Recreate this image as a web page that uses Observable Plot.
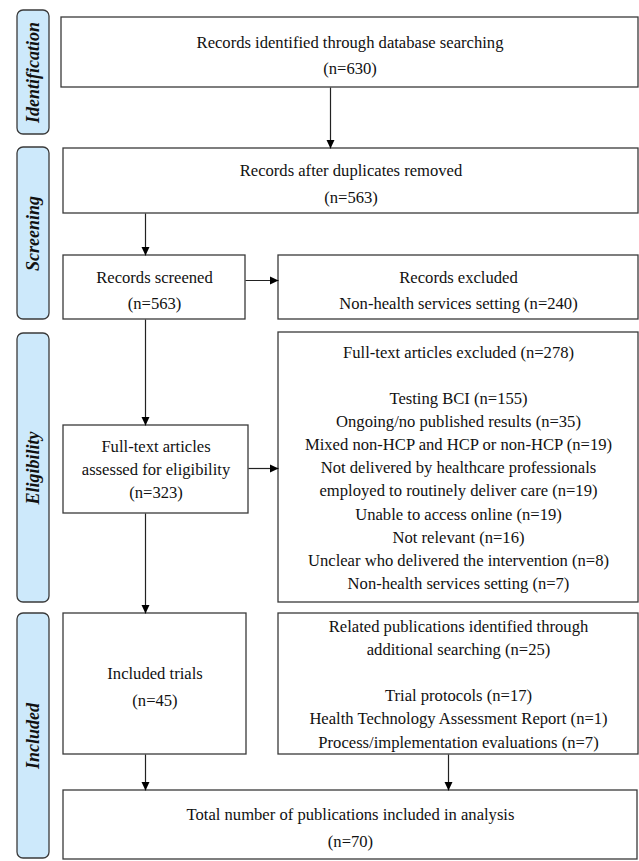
<!DOCTYPE html>
<html><head><meta charset="utf-8">
<script src="https://cdn.jsdelivr.net/npm/d3@7"></script>
<script src="https://cdn.jsdelivr.net/npm/@observablehq/plot@0.6"></script>
<style>body{margin:0;background:#fff}</style>
</head><body><div id="chart"></div>
<script>
// ---- data (texts / counts) ----
const stages = ["Identification", "Screening", "Eligibility", "Included"];
const boxIds = ["ident", "dedup", "screened", "excluded", "ftExcluded", "ftAssessed", "trials", "related", "total"];
const boxLines = [
  ["Records identified through database searching", "(n=630)"],
  ["Records after duplicates removed", "(n=563)"],
  ["Records screened", "(n=563)"],
  ["Records excluded", "Non-health services setting (n=240)"],
  ["Full-text articles excluded (n=278)", "", "Testing BCI (n=155)", "Ongoing/no published results (n=35)",
   "Mixed non-HCP and HCP or non-HCP (n=19)", "Not delivered by healthcare professionals",
   "employed to routinely deliver care (n=19)", "Unable to access online (n=19)", "Not relevant (n=16)",
   "Unclear who delivered the intervention (n=8)", "Non-health services setting (n=7)"],
  ["Full-text articles", "assessed for eligibility", "(n=323)"],
  ["Included trials", "(n=45)"],
  ["Related publications identified through", "additional searching (n=25)", "",
   "Trial protocols (n=17)", "Health Technology Assessment Report (n=1)", "Process/implementation evaluations (n=7)"],
  ["Total number of publications included in analysis", "(n=70)"]
];
const flows = [["ident","dedup"],["dedup","screened"],["screened","excluded"],["screened","ftAssessed"],
  ["ftAssessed","ftExcluded"],["ftAssessed","trials"],["trials","total"],["related","total"]];

// ---- layout (pixel geometry of the diagram) ----
const W = 639, H = 861;
const stageBands = [[10,134],[147,319],[333,602],[613,858]];
const stageCol = [17,49];
const boxGeom = {
  ident: [61,638,17,87], dedup: [63,638,148,213], screened: [63,245,255,319],
  excluded: [278,638,255,319], ftExcluded: [278,638,332,602], ftAssessed: [63,248,425,513],
  trials: [63,246,613,754], related: [278,638,613,754], total: [63,637,790,859]
};
const flowGeom = {
  "ident>dedup": {x:330}, "dedup>screened": {x:145}, "screened>excluded": {y:280},
  "screened>ftAssessed": {x:145}, "ftAssessed>ftExcluded": {y:468}, "ftAssessed>trials": {x:145},
  "trials>total": {x:145}, "related>total": {x:448}
};

const boxes = boxIds.map((id,i) => {
  const [x1,x2,y1,y2] = boxGeom[id];
  return {id, x1, x2, y1, y2, text: boxLines[i].join("\n"), n: boxLines[i].length};
});
const stageData = stages.map((s,i) => ({stage: s, x1: stageCol[0], x2: stageCol[1], y1: stageBands[i][0], y2: stageBands[i][1]}));
const arrows = flows.map(([a,b]) => {
  const g = flowGeom[a+">"+b], A = boxGeom[a], B = boxGeom[b];
  if (g.x !== undefined) return {x1:g.x, x2:g.x, y1:A[3], y2:B[2], rot:0};
  return {x1:A[1], x2:B[0], y1:g.y, y2:g.y, rot:-90};
});
const head = {draw(ctx){ ctx.moveTo(0,0); ctx.lineTo(-4,-8.5); ctx.lineTo(4,-8.5); ctx.closePath(); }};

const serif = "'Liberation Serif','Times New Roman',serif";
const chart = Plot.plot({
  width: W, height: H, margin: 0,
  x: {domain:[0,W], range:[0,W], axis:null},
  y: {domain:[0,H], range:[0,H], axis:null},
  style: {background:"#fff"},
  marks: [
    Plot.rect(stageData, {x1:"x1", x2:"x2", y1:"y1", y2:"y2", rx:6, fill:"#cde9fb", stroke:"#3a3a3a", strokeWidth:1.3}),
    Plot.text(stageData, {x: d => (d.x1+d.x2)/2, y: d => (d.y1+d.y2)/2, text:"stage", rotate:-90,
      fontFamily: serif, fontSize:18, fontWeight:"bold", fontStyle:"italic", fill:"#111"}),
    Plot.rect(boxes, {x1:"x1", x2:"x2", y1:"y1", y2:"y2", fill:"#fff", stroke:"#3a3a3a", strokeWidth:1.3}),
    Plot.link(arrows, {x1:"x1", y1:"y1", x2:"x2", y2:"y2", stroke:"#222", strokeWidth:1.2}),
    Plot.dot(arrows, {x:"x2", y:"y2", symbol: head, rotate:"rot", fill:"#000", stroke:"none"}),
    Plot.text(boxes.filter(d => d.n <= 2), {x: d => (d.x1+d.x2)/2, y: d => (d.y1+d.y2)/2, text:"text",
      lineHeight:1.58, fontFamily: serif, fontSize:16.6, fill:"#111"}),
    Plot.text(boxes.filter(d => d.n > 2), {x: d => (d.x1+d.x2)/2, y: d => (d.y1+d.y2)/2 - 1.5, text:"text",
      lineHeight:1.39, fontFamily: serif, fontSize:16.6, fill:"#111"})
  ]
});
document.getElementById("chart").appendChild(chart);
</script>
</body></html>
